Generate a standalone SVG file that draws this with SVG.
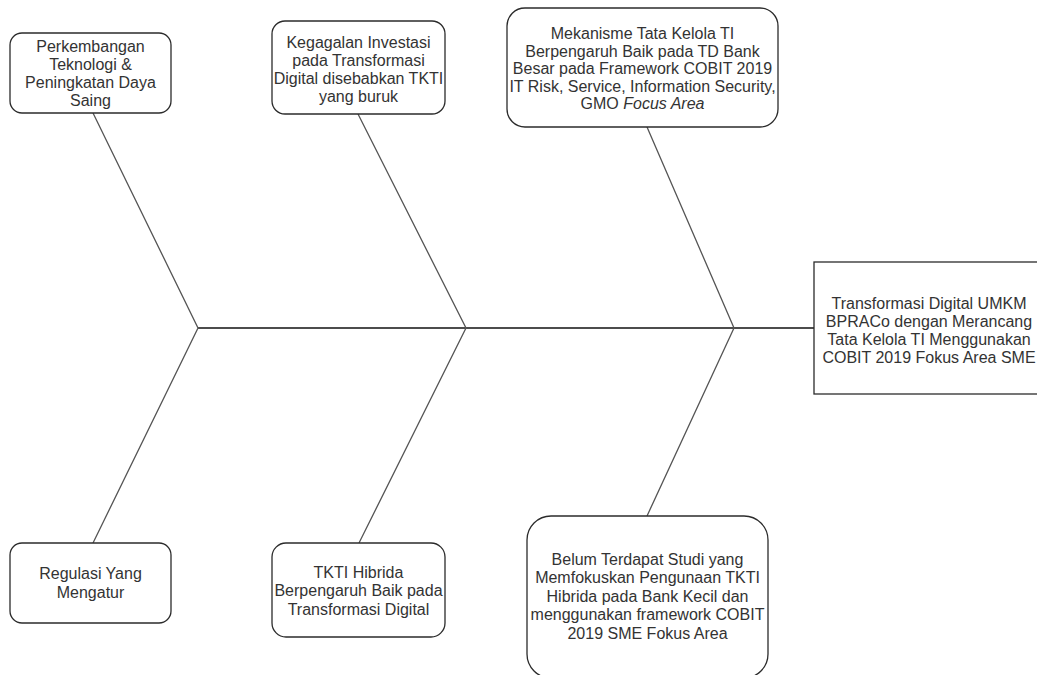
<svg xmlns="http://www.w3.org/2000/svg" width="1037" height="675" viewBox="0 0 1037 675">
<style>
.box{fill:#fff;stroke:#2b2b2b;stroke-width:1.3}
.bone{stroke:#555;stroke-width:1.3;fill:none}
.spine{stroke:#111;stroke-width:1.6;fill:none}
text{font-family:"Liberation Sans",Arial,sans-serif;font-size:16px;fill:#333;text-anchor:middle}
</style>
<rect width="1037" height="675" fill="#fff"/>
<g id="connectors">
<line class="spine" x1="198" y1="328" x2="814" y2="328"/>
<polyline class="bone" points="93,113 198,328 93,543"/>
<polyline class="bone" points="358,114 466,328 359,543"/>
<polyline class="bone" points="647,127 734,328 647,516"/>
</g>
<g id="n1">
<rect class="box" x="10" y="33" width="161" height="80" rx="12"/>
<text x="90.5"><tspan x="90.5" y="51.5">Perkembangan</tspan><tspan x="90.5" y="69.5">Teknologi &amp;</tspan><tspan x="90.5" y="87.5">Peningkatan Daya</tspan><tspan x="90.5" y="105.5">Saing</tspan></text>
</g>
<g id="n2">
<rect class="box" x="272" y="21" width="173" height="93" rx="13"/>
<text><tspan x="358.5" y="47.5">Kegagalan Investasi</tspan><tspan x="358.5" y="65.5">pada Transformasi</tspan><tspan x="358.5" y="83.5">Digital disebabkan TKTI</tspan><tspan x="358.5" y="101.5">yang buruk</tspan></text>
</g>
<g id="n3">
<rect class="box" x="507" y="8" width="271" height="119" rx="18"/>
<text><tspan x="642.5" y="38.5">Mekanisme Tata Kelola TI</tspan><tspan x="642.5" y="56.5">Berpengaruh Baik pada TD Bank</tspan><tspan x="642.5" y="74">Besar pada Framework COBIT 2019</tspan><tspan x="642.5" y="91.5">IT Risk, Service, Information Security,</tspan><tspan x="642.5" y="109">GMO <tspan font-style="italic">Focus Area</tspan></tspan></text>
</g>
<g id="n4">
<rect class="box" x="814" y="262" width="230" height="132"/>
<text><tspan x="929" y="308.5">Transformasi Digital UMKM</tspan><tspan x="929" y="326.5">BPRACo dengan Merancang</tspan><tspan x="929" y="344.5">Tata Kelola TI Menggunakan</tspan><tspan x="929" y="362.5">COBIT 2019 Fokus Area SME</tspan></text>
</g>
<g id="n5">
<rect class="box" x="10" y="543" width="161" height="80" rx="12"/>
<text><tspan x="90.5" y="579">Regulasi Yang</tspan><tspan x="90.5" y="598">Mengatur</tspan></text>
</g>
<g id="n6">
<rect class="box" x="272" y="543" width="173" height="94" rx="14"/>
<text><tspan x="358.5" y="577.5">TKTI Hibrida</tspan><tspan x="358.5" y="596">Berpengaruh Baik pada</tspan><tspan x="358.5" y="614.5">Transformasi Digital</tspan></text>
</g>
<g id="n7">
<rect class="box" x="527" y="516" width="241" height="162" rx="24"/>
<text><tspan x="647.5" y="564.5">Belum Terdapat Studi yang</tspan><tspan x="647.5" y="583">Memfokuskan Pengunaan TKTI</tspan><tspan x="647.5" y="601.5">Hibrida pada Bank Kecil dan</tspan><tspan x="647.5" y="620">menggunakan framework COBIT</tspan><tspan x="647.5" y="638.5">2019 SME Fokus Area</tspan></text>
</g>
</svg>
